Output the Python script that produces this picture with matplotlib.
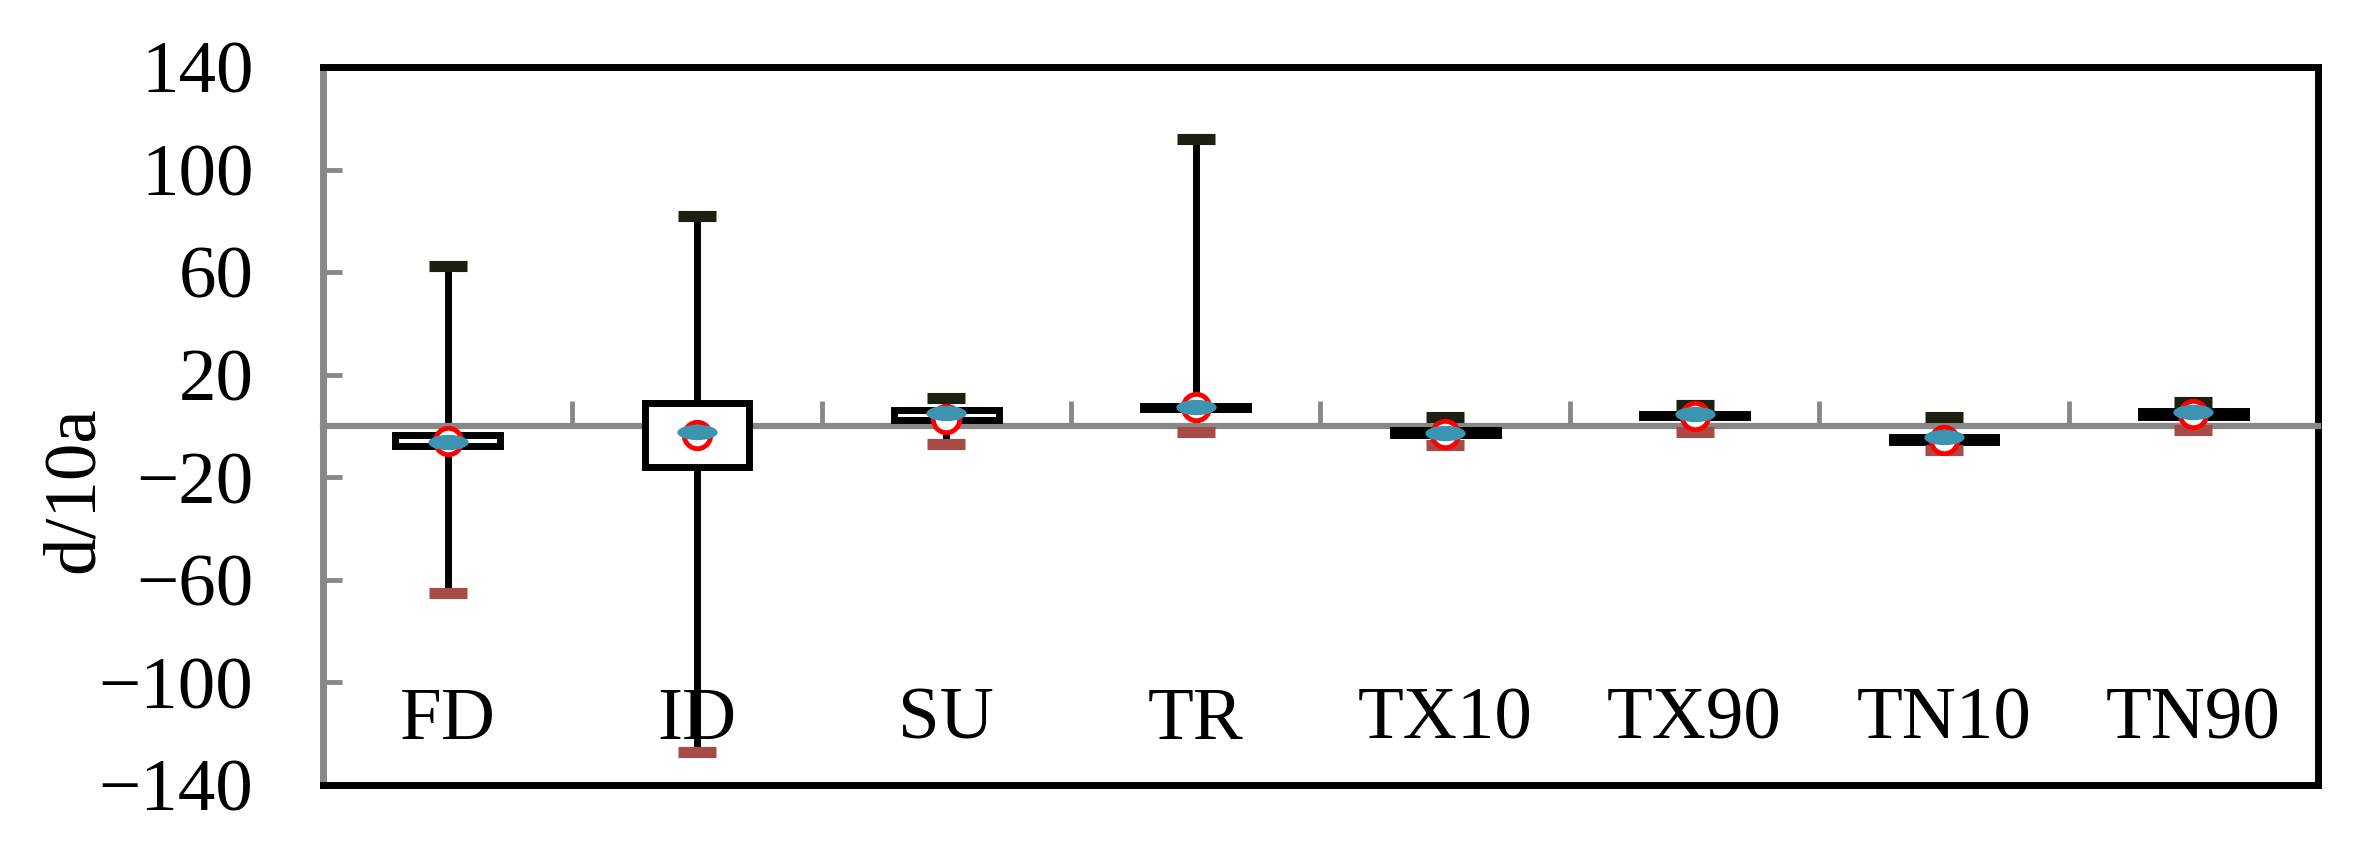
import numpy as np
import matplotlib
matplotlib.use("Agg")
import matplotlib.pyplot as plt
from matplotlib.path import Path
from matplotlib.transforms import Affine2D

# categories and values (d/10a)
labels = ["FD", "ID", "SU", "TR", "TX10", "TX90", "TN10", "TN90"]
high = [62.5, 82.0, 11.0, 111.8, 3.4, 8.2, 3.4, 9.5]
low = [-65.3, -127.0, -7.1, -2.4, -7.4, -2.2, -9.4, -1.6]
q3 = [-3.4, 9.1, 6.2, 7.8, -1.5, 4.7, -4.1, 5.7]
q1 = [-7.8, -15.9, 2.4, 6.8, -3.5, 3.7, -6.1, 3.7]
median = [-6.2, -2.4, 5.0, 7.3, -2.9, 4.6, -4.2, 5.6]
mean = [-6.0, -3.4, 2.8, 7.3, -3.2, 4.0, -5.5, 4.6]
yticks = [-140, -100, -60, -20, 20, 60, 100, 140]

plt.rcParams['font.family'] = ['Liberation Serif', 'DejaVu Serif']
gray = '#888888'

fig = plt.figure(figsize=(23.76, 8.66), dpi=100)
ax = fig.add_axes([0.1359, 0.0935, 0.9756 - 0.1359, 0.9226 - 0.0935])

x = np.arange(len(labels)) + 0.5
box_w = 0.42

# whiskers
ax.vlines(x, low, high, color='black', lw=5, zorder=2)
# boxes
for xi, a, b in zip(x, q1, q3):
    ax.add_patch(plt.Rectangle((xi - box_w / 2, min(a, b)), box_w, abs(b - a),
                               facecolor='white', edgecolor='black', lw=5, zorder=3))
# caps
ax.plot(x, high, ls='none', marker='_', ms=28, mew=8, color='#1b2010', zorder=4)
ax.plot(x, low, ls='none', marker='_', ms=28, mew=8, color='#a84a46', zorder=4)
# mean (open circle) and median (flat ellipse)
ax.plot(x, mean, ls='none', marker='o', ms=19, mew=3.5, mec='#ff0000', mfc='white', zorder=5)
ellipse = Path.unit_circle().transformed(Affine2D().scale(1, 0.38))
ax.plot(x, median, ls='none', marker=ellipse, ms=29, mew=0, color='#3b95b0', zorder=6)

# category names near bottom
for xi, name in zip(x, labels):
    ax.text(xi, -122, name, ha='center', va='baseline', fontsize=54, zorder=1)

ax.set_xlim(0, len(labels))
ax.set_ylim(-140, 140)
ax.set_yticks(yticks)
ax.set_yticklabels([f"{v}".replace('-', '\u2212') for v in yticks])
ax.set_xticks(np.arange(len(labels) + 1))
ax.set_xticklabels([])

ax.spines['bottom'].set_position(('data', 0))
ax.spines['bottom'].set_color(gray)
ax.spines['bottom'].set_linewidth(4.5)
ax.spines['left'].set_color(gray)
ax.spines['left'].set_linewidth(5)
for s in ['top', 'right']:
    ax.spines[s].set_color('black')
    ax.spines[s].set_linewidth(5)
ax.plot([0, 1], [0, 0], transform=ax.transAxes, color='black', lw=5, clip_on=False, zorder=7)

ax.tick_params(axis='y', direction='in', length=14, width=3.5, color=gray, labelsize=54, pad=50)
ax.tick_params(axis='x', direction='in', length=18, width=3.5, color=gray)

fig.text(0.0316, 0.434, 'd/10a', rotation=90, ha='center', va='center', fontsize=54)

fig.savefig('out.png', dpi=100)
